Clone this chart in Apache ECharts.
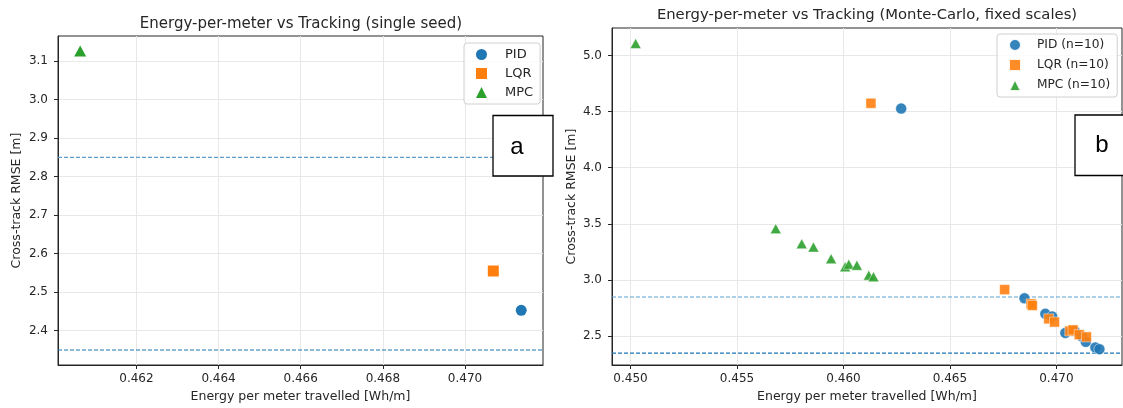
<!DOCTYPE html>
<html>
<head>
<meta charset="utf-8">
<script src="https://cdn.jsdelivr.net/npm/echarts@6/dist/echarts.min.js"></script>
<style>
  html, body { margin: 0; padding: 0; background: #fff; }
  #chart { width: 1123px; height: 408px; }
</style>
</head>
<body>
<div id="chart"></div>
<script>
// panel a: single seed
const singlePidX = [0.47137];
const singlePidY = [2.453];
const singleLqrX = [0.47069];
const singleLqrY = [2.555];
const singleMpcX = [0.46063];
const singleMpcY = [3.126];

// panel b: Monte-Carlo, 10 runs each
const mcPidX = [0.46271, 0.46850, 0.46948, 0.46980, 0.47042, 0.47085, 0.47120, 0.47138, 0.47183, 0.47202];
const mcPidY = [4.527, 2.838, 2.700, 2.676, 2.529, 2.548, 2.500, 2.450, 2.400, 2.385];
const mcLqrX = [0.46129, 0.46757, 0.46881, 0.46887, 0.46964, 0.46991, 0.47063, 0.47078, 0.47107, 0.47141];
const mcLqrY = [4.574, 2.915, 2.788, 2.774, 2.655, 2.626, 2.547, 2.556, 2.514, 2.494];
const mcMpcX = [0.45024, 0.45682, 0.45804, 0.45859, 0.45942, 0.46008, 0.46025, 0.46063, 0.46119, 0.46141];
const mcMpcY = [5.106, 3.458, 3.323, 3.294, 3.190, 3.118, 3.141, 3.132, 3.044, 3.030];

// dashed reference lines (upper, lower)
const thresholdsY = [2.85, 2.35];

// axis ranges
const singleXRange = [0.46009, 0.47190];
const singleYRange = [2.311, 3.165];
const mcXRange = [0.44913, 0.47308];
const mcYRange = [2.244, 5.244];

// tick labels
const singleXTicks = [0.462, 0.464, 0.466, 0.468, 0.470];
const singleYTicks = [2.4, 2.5, 2.6, 2.7, 2.8, 2.9, 3.0, 3.1];
const mcXTicks = [0.450, 0.455, 0.460, 0.465, 0.470];
const mcYTicks = [2.5, 3.0, 3.5, 4.0, 4.5, 5.0];

const FONT = 'DejaVu Sans';
const INK = '#262626';
const BLUE = '#1f77b4', ORANGE = '#ff7f0e', GREEN = '#2ca02c';
const LIGHT_BLUE = '#5d9fd0';

const zip = (xs, ys) => xs.map((x, i) => [x, ys[i]]);

function xAxisCfg(gridIndex, range, ticks) {
  return {
    type: 'value', gridIndex, min: range[0], max: range[1],
    name: 'Energy per meter travelled [Wh/m]',
    nameLocation: 'middle', nameGap: 25,
    nameTextStyle: { color: INK, fontSize: 12.5, fontFamily: FONT },
    axisLine: { show: true, onZero: false, lineStyle: { color: INK, width: 1 } },
    axisTick: { show: true, length: 4, lineStyle: { color: INK }, customValues: ticks },
    axisLabel: {
      customValues: ticks, color: INK, fontSize: 12, fontFamily: FONT, margin: 8,
      formatter: v => v.toFixed(3)
    },
    splitLine: { show: true, lineStyle: { color: '#e8e8e8' } }
  };
}

function yAxisCfg(gridIndex, range, ticks, gap) {
  return {
    type: 'value', gridIndex, min: range[0], max: range[1],
    name: 'Cross-track RMSE [m]',
    nameLocation: 'middle', nameGap: gap,
    nameTextStyle: { color: INK, fontSize: 12.5, fontFamily: FONT },
    axisLine: { show: true, onZero: false, lineStyle: { color: INK, width: 1 } },
    axisTick: { show: true, length: 4, lineStyle: { color: INK }, customValues: ticks },
    axisLabel: {
      customValues: ticks, color: INK, fontSize: 12, fontFamily: FONT, margin: 10,
      formatter: v => v.toFixed(1)
    },
    splitLine: { show: true, lineStyle: { color: '#e8e8e8' } }
  };
}

// horizontal dashed line across the whole x range of a panel
function refLine(axisIndex, xRange, y, color) {
  return {
    type: 'line', xAxisIndex: axisIndex, yAxisIndex: axisIndex,
    data: [[xRange[0], y], [xRange[1], y]],
    symbol: 'none', silent: true, z: 1,
    lineStyle: { color, type: [4, 2], width: 1.1 },
    emphasis: { disabled: true }
  };
}

const singleItem = (color) => ({ color, opacity: 1 });
const mcItem = (color) => ({ color, opacity: 0.9, borderColor: '#fff', borderWidth: 0.5 });

const chart = echarts.init(document.getElementById('chart'), null, { renderer: 'canvas' });

const option = {
  animation: false,
  backgroundColor: '#fff',
  title: [
    {
      text: 'Energy-per-meter vs Tracking (single seed)',
      left: 301, top: 17, textAlign: 'center', padding: 0,
      textStyle: { color: INK, fontSize: 15, fontWeight: 'normal', fontFamily: FONT }
    },
    {
      text: 'Energy-per-meter vs Tracking (Monte-Carlo, fixed scales)',
      left: 867, top: 8, textAlign: 'center', padding: 0,
      textStyle: { color: INK, fontSize: 14.8, fontWeight: 'normal', fontFamily: FONT }
    }
  ],
  grid: [
    { left: 58, top: 36, width: 485, height: 331, show: true, borderColor: INK, borderWidth: 1, backgroundColor: 'transparent' },
    { left: 612, top: 28, width: 510, height: 340, show: true, borderColor: INK, borderWidth: 1, backgroundColor: 'transparent' }
  ],
  xAxis: [
    xAxisCfg(0, singleXRange, singleXTicks),
    xAxisCfg(1, mcXRange, mcXTicks)
  ],
  yAxis: [
    yAxisCfg(0, singleYRange, singleYTicks, 35),
    yAxisCfg(1, mcYRange, mcYTicks, 34)
  ],
  legend: [
    {
      data: [{ name: 'PID', icon: 'circle' }, { name: 'LQR', icon: 'rect' }, { name: 'MPC', icon: 'triangle' }],
      orient: 'vertical', left: 464, top: 43,
      padding: [5, 7, 5, 12], itemWidth: 11, itemHeight: 11, itemGap: 6,
      borderColor: '#d0d0d0', borderWidth: 1, borderRadius: 3,
      backgroundColor: 'rgba(255,255,255,0.8)',
      textStyle: { color: INK, fontSize: 13, fontFamily: FONT, padding: [0, 0, 0, 13] }
    },
    {
      data: [{ name: 'PID (n=10)', icon: 'circle' }, { name: 'LQR (n=10)', icon: 'rect' }, { name: 'MPC (n=10)', icon: 'triangle' }],
      orient: 'vertical', left: 997, top: 34,
      padding: [4, 7, 5, 11], itemWidth: 12, itemHeight: 12, itemGap: 6,
      borderColor: '#d0d0d0', borderWidth: 1, borderRadius: 3,
      backgroundColor: 'rgba(255,255,255,0.8)',
      textStyle: { color: INK, fontSize: 12.2, fontFamily: FONT, padding: [0, 0, 0, 11] }
    }
  ],
  series: [
    refLine(0, singleXRange, thresholdsY[0], LIGHT_BLUE),
    refLine(0, singleXRange, thresholdsY[1], BLUE),
    refLine(1, mcXRange, thresholdsY[0], LIGHT_BLUE),
    refLine(1, mcXRange, thresholdsY[1], BLUE),
    {
      name: 'PID', type: 'scatter', xAxisIndex: 0, yAxisIndex: 0,
      data: zip(singlePidX, singlePidY), symbol: 'circle', symbolSize: 11,
      itemStyle: singleItem(BLUE)
    },
    {
      name: 'LQR', type: 'scatter', xAxisIndex: 0, yAxisIndex: 0,
      data: zip(singleLqrX, singleLqrY), symbol: 'rect', symbolSize: 11,
      itemStyle: singleItem(ORANGE)
    },
    {
      name: 'MPC', type: 'scatter', xAxisIndex: 0, yAxisIndex: 0,
      data: zip(singleMpcX, singleMpcY), symbol: 'triangle', symbolSize: [12, 11],
      itemStyle: singleItem(GREEN)
    },
    {
      name: 'PID (n=10)', type: 'scatter', xAxisIndex: 1, yAxisIndex: 1,
      data: zip(mcPidX, mcPidY), symbol: 'circle', symbolSize: 11,
      itemStyle: mcItem(BLUE)
    },
    {
      name: 'LQR (n=10)', type: 'scatter', xAxisIndex: 1, yAxisIndex: 1,
      data: zip(mcLqrX, mcLqrY), symbol: 'rect', symbolSize: 10,
      itemStyle: mcItem(ORANGE)
    },
    {
      name: 'MPC (n=10)', type: 'scatter', xAxisIndex: 1, yAxisIndex: 1,
      data: zip(mcMpcX, mcMpcY), symbol: 'triangle', symbolSize: [11, 10],
      itemStyle: mcItem(GREEN)
    }
  ],
  graphic: [
    {
      type: 'rect', z: 100,
      shape: { x: 493, y: 115.5, width: 60, height: 60.5 },
      style: { fill: '#fff', stroke: '#000', lineWidth: 1.3 }
    },
    {
      type: 'text', z: 101, x: 517, y: 147,
      style: { text: 'a', font: '24px "Liberation Sans"', fill: '#000', align: 'center', verticalAlign: 'middle' }
    },
    {
      type: 'rect', z: 100,
      shape: { x: 1075, y: 115, width: 50, height: 60.5 },
      style: { fill: '#fff', stroke: '#000', lineWidth: 1.3 }
    },
    {
      type: 'text', z: 101, x: 1102, y: 145,
      style: { text: 'b', font: '24px "Liberation Sans"', fill: '#000', align: 'center', verticalAlign: 'middle' }
    }
  ]
};

chart.setOption(option);
</script>
</body>
</html>
